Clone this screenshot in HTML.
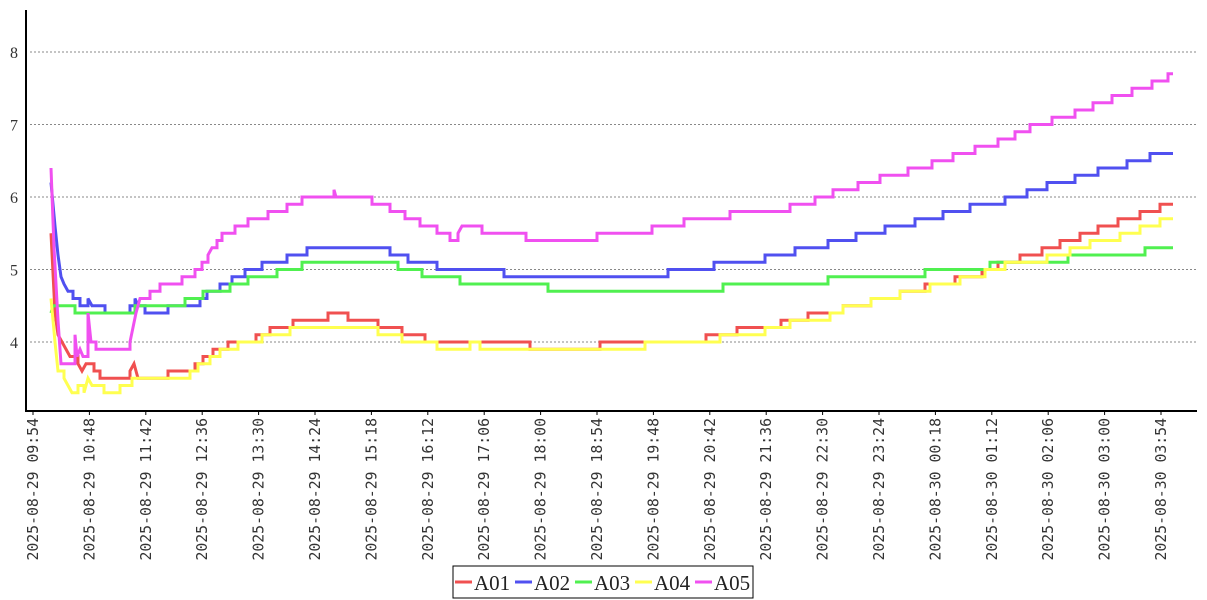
<!DOCTYPE html>
<html><head><meta charset="utf-8"><style>
body{margin:0;background:#fff;}
svg{display:block;font-family:"Liberation Serif","DejaVu Serif",serif;}
</style></head><body>
<svg id="s" width="1207" height="600" viewBox="0 0 1207 600" xmlns="http://www.w3.org/2000/svg">
<rect width="1207" height="600" fill="#fff"/>
<g id="grid"></g>
<g id="series" fill="none" stroke-width="3" stroke-linejoin="miter"></g>
<line x1="26" y1="10" x2="26" y2="412" stroke="#000" stroke-width="2"/>
<line x1="25" y1="411" x2="1197" y2="411" stroke="#000" stroke-width="2"/>
<g id="ax" font-size="16" fill="#333"></g>
<rect x="453" y="566" width="300" height="32" fill="#fff" stroke="#000" stroke-width="1"/>
<g font-size="21" fill="#222">
<line x1="455" y1="582" x2="472" y2="582" stroke="#f05050" stroke-width="3"/><text x="474" y="590">A01</text>
<line x1="515" y1="582" x2="532" y2="582" stroke="#5050f0" stroke-width="3"/><text x="534" y="590">A02</text>
<line x1="575" y1="582" x2="592" y2="582" stroke="#50f050" stroke-width="3"/><text x="594" y="590">A03</text>
<line x1="635" y1="582" x2="652" y2="582" stroke="#ffff50" stroke-width="3"/><text x="654" y="590">A04</text>
<line x1="695" y1="582" x2="712" y2="582" stroke="#f050f0" stroke-width="3"/><text x="714" y="590">A05</text>
</g>
</svg>
<script>
var NS="http://www.w3.org/2000/svg";
function Y(v){return 342-(v-4)*72.5;}
var g=document.getElementById('grid'),ax=document.getElementById('ax');
[4,5,6,7,8].forEach(function(v){
 var l=document.createElementNS(NS,'line');l.setAttribute('x1',30);l.setAttribute('x2',1196);
 l.setAttribute('y1',Y(v));l.setAttribute('y2',Y(v));l.setAttribute('stroke','#888');l.setAttribute('stroke-dasharray','2,2');l.setAttribute('stroke-width','1');g.appendChild(l);
 var t=document.createElementNS(NS,'text');t.setAttribute('x',18);t.setAttribute('y',Y(v)+6);t.setAttribute('text-anchor','end');t.textContent=v;ax.appendChild(t);
});
var labs=["2025-08-29 09:54","2025-08-29 10:48","2025-08-29 11:42","2025-08-29 12:36","2025-08-29 13:30","2025-08-29 14:24","2025-08-29 15:18","2025-08-29 16:12","2025-08-29 17:06","2025-08-29 18:00","2025-08-29 18:54","2025-08-29 19:48","2025-08-29 20:42","2025-08-29 21:36","2025-08-29 22:30","2025-08-29 23:24","2025-08-30 00:18","2025-08-30 01:12","2025-08-30 02:06","2025-08-30 03:00","2025-08-30 03:54"];
labs.forEach(function(s,i){
 var x=33+56.4*i;
 var l=document.createElementNS(NS,'line');l.setAttribute('x1',x);l.setAttribute('x2',x);l.setAttribute('y1',411);l.setAttribute('y2',415);l.setAttribute('stroke','#000');ax.appendChild(l);
 var t=document.createElementNS(NS,'text');t.setAttribute('transform','translate('+(x+5)+',418) rotate(-90)');t.setAttribute('text-anchor','end');t.setAttribute('font-family','"DejaVu Sans Mono","Liberation Mono",monospace');t.setAttribute('font-size','14.8');t.textContent=s.replace(' ','  ');ax.appendChild(t);
});
var S={
"#f05050":[[51,5.5],[55,4.4],[58,4.1],[62,4.0],[66,3.9],[70,3.8],[78,3.7],[82,3.6],[86,3.7],[94,3.6],[100,3.5],[130,3.6],[134,3.7],[138,3.5],[168,3.6],[195,3.7],[203,3.8],[213,3.9],[228,4.0],[256,4.1],[270,4.2],[293,4.3],[328,4.4],[348,4.3],[378,4.2],[402,4.1],[425,4.0],[530,3.9],[600,4.0],[706,4.1],[737,4.2],[781,4.3],[808,4.4],[843,4.5],[871,4.6],[900,4.7],[925,4.8],[955,4.9],[982,5.0],[998,5.1],[1020,5.2],[1042,5.3],[1060,5.4],[1080,5.5],[1098,5.6],[1118,5.7],[1140,5.8],[1160,5.9],[1173,5.9]],
"#5050f0":[[51,6.2],[55,5.6],[58,5.2],[61,4.9],[64,4.8],[68,4.7],[73,4.6],[80,4.5],[88,4.6],[92,4.5],[105,4.4],[130,4.5],[135,4.6],[138,4.5],[145,4.4],[168,4.5],[200,4.6],[207,4.7],[220,4.8],[232,4.9],[245,5.0],[262,5.1],[287,5.2],[307,5.3],[390,5.2],[408,5.1],[437,5.0],[504,4.9],[668,5.0],[714,5.1],[765,5.2],[795,5.3],[828,5.4],[856,5.5],[885,5.6],[915,5.7],[943,5.8],[970,5.9],[1005,6.0],[1027,6.1],[1047,6.2],[1075,6.3],[1098,6.4],[1127,6.5],[1150,6.6],[1173,6.6]],
"#50f050":[[51,4.4],[53,4.5],[75,4.4],[135,4.5],[185,4.6],[203,4.7],[230,4.8],[248,4.9],[277,5.0],[302,5.1],[398,5.0],[422,4.9],[460,4.8],[548,4.7],[723,4.8],[828,4.9],[925,5.0],[990,5.1],[1068,5.2],[1145,5.3],[1173,5.3]],
"#ffff50":[[51,4.6],[55,4.0],[58,3.6],[64,3.5],[68,3.4],[72,3.3],[78,3.4],[84,3.3],[88,3.5],[92,3.4],[104,3.3],[120,3.4],[132,3.5],[190,3.6],[198,3.7],[210,3.8],[220,3.9],[238,4.0],[262,4.1],[290,4.2],[378,4.1],[402,4.0],[437,3.9],[470,4.0],[480,3.9],[645,4.0],[720,4.1],[765,4.2],[790,4.3],[830,4.4],[843,4.5],[871,4.6],[900,4.7],[930,4.8],[960,4.9],[985,5.0],[1005,5.1],[1047,5.2],[1070,5.3],[1090,5.4],[1120,5.5],[1140,5.6],[1160,5.7],[1173,5.7]],
"#f050f0":[[51,6.4],[54,5.3],[58,4.3],[61,3.7],[75,4.1],[77,3.8],[80,3.9],[83,3.8],[88,4.4],[91,4.0],[96,3.9],[130,4.0],[133,4.2],[136,4.4],[140,4.6],[150,4.7],[160,4.8],[182,4.9],[195,5.0],[202,5.1],[208,5.2],[212,5.3],[217,5.4],[222,5.5],[235,5.6],[248,5.7],[268,5.8],[287,5.9],[302,6.0],[334,6.1],[336,6.0],[372,5.9],[390,5.8],[405,5.7],[420,5.6],[437,5.5],[450,5.4],[458,5.5],[462,5.6],[482,5.5],[526,5.4],[597,5.5],[652,5.6],[684,5.7],[730,5.8],[790,5.9],[815,6.0],[833,6.1],[858,6.2],[880,6.3],[908,6.4],[932,6.5],[953,6.6],[975,6.7],[998,6.8],[1015,6.9],[1030,7.0],[1052,7.1],[1075,7.2],[1093,7.3],[1112,7.4],[1132,7.5],[1152,7.6],[1168,7.7],[1173,7.7]]};
var sg=document.getElementById('series');
for(var c in S){var p=S[c],d='M'+p[0][0]+','+Y(p[0][1]);
 for(var i=1;i<p.length;i++){var dx=p[i][0]-p[i-1][0];
  if(dx<=4) d+=' L'+p[i][0]+','+Y(p[i][1]);
  else d+=' L'+p[i][0]+','+Y(p[i-1][1])+' L'+p[i][0]+','+Y(p[i][1]);}
 var e=document.createElementNS(NS,'path');e.setAttribute('d',d);e.setAttribute('stroke',c);sg.appendChild(e);}
</script>
</body></html>
